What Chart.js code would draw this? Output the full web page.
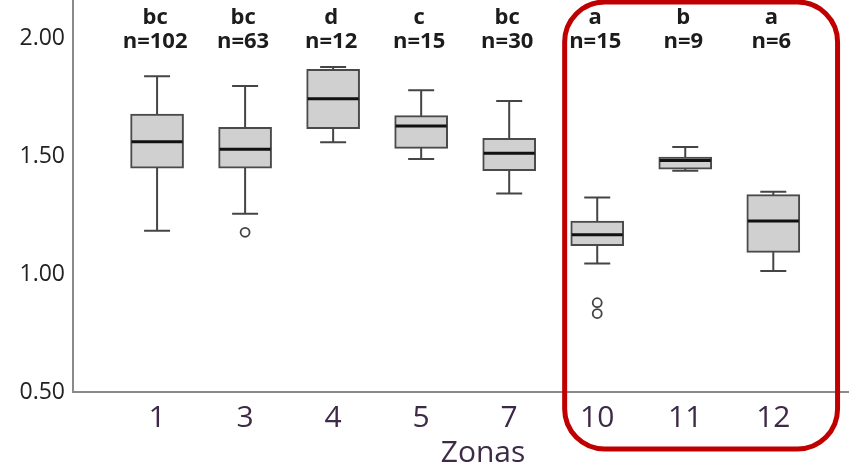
<!DOCTYPE html>
<html>
<head>
<meta charset="utf-8">
<script src="https://cdn.jsdelivr.net/npm/chart.js@4/dist/chart.umd.min.js"></script>
<style>
  html, body { margin: 0; padding: 0; background: #ffffff; }
  #wrap { width: 849px; height: 473px; position: relative; }
</style>
</head>
<body>
<div id="wrap"><canvas id="c" width="849" height="473"></canvas></div>
<script>
const categories   = ['1', '3', '4', '5', '7', '10', '11', '12'];
const whiskerLow   = [1.185, 1.257, 1.560, 1.489, 1.343, 1.045, 1.439, 1.014];
const q1           = [1.450, 1.450, 1.618, 1.534, 1.439, 1.121, 1.446, 1.093];
const median       = [1.562, 1.530, 1.745, 1.629, 1.514, 1.167, 1.483, 1.226];
const q3           = [1.680, 1.623, 1.870, 1.673, 1.577, 1.226, 1.497, 1.338];
const whiskerHigh  = [1.840, 1.799, 1.880, 1.781, 1.735, 1.326, 1.540, 1.350];
const outlierZone  = ['3', '10', '10'];
const outlierValue = [1.178, 0.879, 0.833];
const letters      = ['bc', 'bc', 'd', 'c', 'bc', 'a', 'b', 'a'];
const nCounts      = [102, 63, 12, 15, 30, 15, 9, 6];
const yTicks       = [0.50, 1.00, 1.50, 2.00];
const highlighted  = ['10', '11', '12'];
const xTitle       = 'Zonas';

const boxData = categories.map((c, i) => ({ x: i, y: [q1[i], q3[i]] }));
const outlierData = outlierZone.map((z, k) => ({ x: categories.indexOf(z), y: outlierValue[k] }));

const BOX_W = 53, CAP_W = 26;

const boxPlugin = {
  id: 'boxParts',
  beforeDatasetsDraw(chart) {
    const ctx = chart.ctx, xs = chart.scales.x, ys = chart.scales.y;
    ctx.save();
    ctx.strokeStyle = '#454545';
    ctx.lineWidth = 2;
    categories.forEach((c, i) => {
      const px = xs.getPixelForValue(i);
      const yl = ys.getPixelForValue(whiskerLow[i]);
      const yh = ys.getPixelForValue(whiskerHigh[i]);
      ctx.beginPath();
      ctx.moveTo(px, yl); ctx.lineTo(px, yh);
      ctx.moveTo(px - CAP_W / 2, yl); ctx.lineTo(px + CAP_W / 2, yl);
      ctx.moveTo(px - CAP_W / 2, yh); ctx.lineTo(px + CAP_W / 2, yh);
      ctx.stroke();
    });
    ctx.restore();
  },
  afterDatasetsDraw(chart) {
    const ctx = chart.ctx, xs = chart.scales.x, ys = chart.scales.y;
    ctx.save();
    ctx.strokeStyle = '#111111';
    ctx.lineWidth = 3;
    categories.forEach((c, i) => {
      const px = xs.getPixelForValue(i);
      const ym = ys.getPixelForValue(median[i]);
      ctx.beginPath();
      ctx.moveTo(px - BOX_W / 2 + 1, ym); ctx.lineTo(px + BOX_W / 2 - 1, ym);
      ctx.stroke();
    });
    ctx.fillStyle = '#1c1c1c';
    ctx.textAlign = 'center';
    ctx.textBaseline = 'middle';
    ctx.font = 'bold 22px "Open Sans"';
    categories.forEach((c, i) => {
      const px = xs.getPixelForValue(i);
      ctx.fillText(letters[i], px - 2, 18);
      ctx.fillText('n=' + nCounts[i], px - 2, 42);
    });
    ctx.restore();
  },
  afterDraw(chart) {
    const ctx = chart.ctx, xs = chart.scales.x, area = chart.chartArea;
    ctx.save();
    ctx.fillStyle = '#3d2a46';
    ctx.font = '30px "Open Sans"';
    ctx.textAlign = 'center';
    ctx.textBaseline = 'middle';
    ctx.fillText(xTitle, 483, 453);
    const i0 = categories.indexOf(highlighted[0]);
    const i1 = categories.indexOf(highlighted[highlighted.length - 1]);
    const left = xs.getPixelForValue(i0 - 0.37);
    const right = xs.getPixelForValue(i1 + 0.73);
    const top = area.top + 2, bottom = 449;
    ctx.strokeStyle = '#c00000';
    ctx.lineWidth = 5;
    ctx.beginPath();
    ctx.roundRect(left, top, right - left, bottom - top, 40);
    ctx.stroke();
    ctx.restore();
  }
};

new Chart(document.getElementById('c'), {
  type: 'bar',
  data: {
    datasets: [
      {
        type: 'bar',
        data: boxData,
        backgroundColor: '#d0d0d0',
        borderColor: '#4a4a4a',
        borderWidth: 2,
        borderSkipped: false,
        barThickness: BOX_W,
        order: 2
      },
      {
        type: 'scatter',
        data: outlierData,
        pointStyle: 'circle',
        pointRadius: 4.5,
        pointBackgroundColor: '#ffffff',
        pointBorderColor: '#444444',
        pointBorderWidth: 1.8,
        order: 1
      }
    ]
  },
  options: {
    responsive: false,
    animation: false,
    layout: { padding: 0, autoPadding: false },
    plugins: { legend: { display: false }, tooltip: { enabled: false }, title: { display: false } },
    scales: {
      x: {
        type: 'linear',
        offset: false,
        min: -0.955,
        max: 7.86,
        grid: { display: false, drawTicks: false, offset: false },
        border: { display: true, color: '#8a8a8a', width: 2 },
        afterBuildTicks: (axis) => { axis.ticks = categories.map((c, i) => ({ value: i })); },
        afterFit: (axis) => { axis.height = 81; axis.paddingLeft = 0; axis.paddingRight = 0; },
        ticks: {
          autoSkip: false,
          maxRotation: 0,
          padding: 8,
          color: '#3d2a46',
          font: { family: '"Open Sans"', size: 30 },
          callback: (v) => categories[v] !== undefined ? categories[v] : ''
        }
      },
      y: {
        type: 'linear',
        min: 0.5,
        max: 2.164,
        grid: { display: false, drawTicks: false },
        border: { display: true, color: '#8a8a8a', width: 2 },
        afterBuildTicks: (axis) => { axis.ticks = yTicks.map(v => ({ value: v })); },
        afterFit: (axis) => { axis.width = 73; axis.paddingTop = 0; axis.paddingBottom = 0; },
        ticks: {
          padding: 8,
          color: '#222222',
          font: { family: '"Open Sans"', size: 23 },
          callback: (v) => Number(v).toFixed(2)
        }
      }
    }
  },
  plugins: [boxPlugin]
});
</script>
</body>
</html>
